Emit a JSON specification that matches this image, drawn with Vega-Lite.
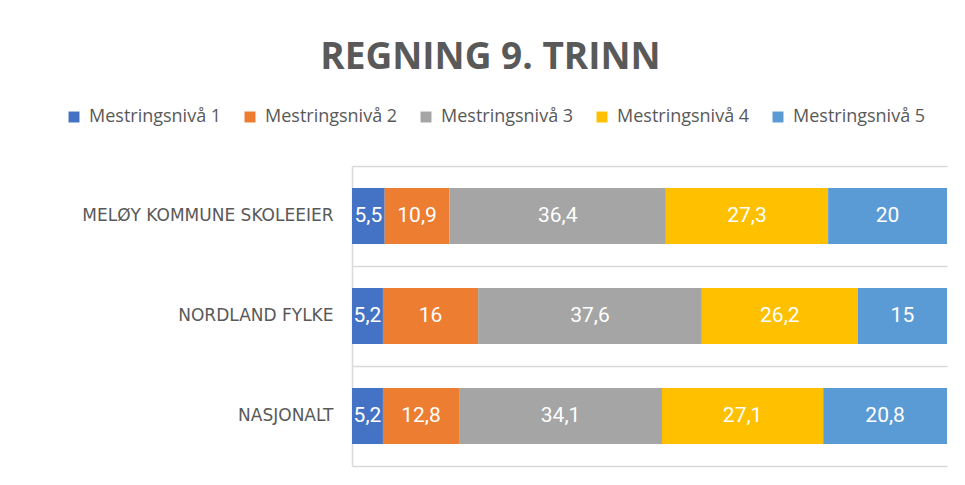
{
  "$schema": "https://vega.github.io/schema/vega-lite/v6.json",
  "autosize": "none",
  "width": 595,
  "height": 300,
  "padding": {"left": 352, "top": 166, "right": 18, "bottom": 19},
  "background": "white",
  "config": {
    "locale": {"number": {"decimal": ",", "thousands": " ", "grouping": [3], "currency": ["", " kr"]}},
    "view": {"stroke": null},
    "font": "Open Sans"
  },
  "title": {
    "text": "REGNING 9. TRINN",
    "font": "Open Sans",
    "fontSize": 37,
    "fontWeight": "bold",
    "color": "#595959",
    "anchor": "middle",
    "frame": "group",
    "dx": -159,
    "offset": 31
  },
  "data": {
    "values": [
      {"omrade": "MELØY KOMMUNE SKOLEEIER", "niva": "Mestringsnivå 1", "verdi": 5.5},
      {"omrade": "MELØY KOMMUNE SKOLEEIER", "niva": "Mestringsnivå 2", "verdi": 10.9},
      {"omrade": "MELØY KOMMUNE SKOLEEIER", "niva": "Mestringsnivå 3", "verdi": 36.4},
      {"omrade": "MELØY KOMMUNE SKOLEEIER", "niva": "Mestringsnivå 4", "verdi": 27.3},
      {"omrade": "MELØY KOMMUNE SKOLEEIER", "niva": "Mestringsnivå 5", "verdi": 20},
      {"omrade": "NORDLAND FYLKE", "niva": "Mestringsnivå 1", "verdi": 5.2},
      {"omrade": "NORDLAND FYLKE", "niva": "Mestringsnivå 2", "verdi": 16},
      {"omrade": "NORDLAND FYLKE", "niva": "Mestringsnivå 3", "verdi": 37.6},
      {"omrade": "NORDLAND FYLKE", "niva": "Mestringsnivå 4", "verdi": 26.2},
      {"omrade": "NORDLAND FYLKE", "niva": "Mestringsnivå 5", "verdi": 15},
      {"omrade": "NASJONALT", "niva": "Mestringsnivå 1", "verdi": 5.2},
      {"omrade": "NASJONALT", "niva": "Mestringsnivå 2", "verdi": 12.8},
      {"omrade": "NASJONALT", "niva": "Mestringsnivå 3", "verdi": 34.1},
      {"omrade": "NASJONALT", "niva": "Mestringsnivå 4", "verdi": 27.1},
      {"omrade": "NASJONALT", "niva": "Mestringsnivå 5", "verdi": 20.8}
    ]
  },
  "transform": [
    {"stack": "verdi", "groupby": ["omrade"], "sort": [{"field": "niva", "order": "ascending"}], "offset": "normalize", "as": ["x0", "x1"]},
    {"calculate": "(datum.x0 + datum.x1) / 2", "as": "xmid"}
  ],
  "encoding": {
    "y": {
      "field": "omrade",
      "type": "nominal",
      "sort": ["MELØY KOMMUNE SKOLEEIER", "NORDLAND FYLKE", "NASJONALT"],
      "scale": {"paddingInner": 0, "paddingOuter": 0},
      "axis": {
        "title": null,
        "domain": true,
        "domainColor": "#d9d9d9",
        "domainWidth": 1.5,
        "ticks": false,
        "grid": true,
        "gridColor": "#d9d9d9",
        "gridWidth": 1.5,
        "bandPosition": 0,
        "labelFont": "DejaVu Sans",
        "labelFontSize": 17,
        "labelColor": "#595959",
        "labelPadding": 19,
        "labelLimit": 400
      }
    }
  },
  "layer": [
    {
      "mark": {"type": "bar", "height": {"band": 0.56}},
      "encoding": {
        "x": {
          "field": "x0",
          "type": "quantitative",
          "scale": {"domain": [0, 1]},
          "axis": {"title": null, "labels": false, "ticks": false, "grid": false, "domain": true, "domainColor": "#d9d9d9", "domainWidth": 1.5}
        },
        "x2": {"field": "x1"},
        "color": {
          "field": "niva",
          "type": "nominal",
          "scale": {
            "domain": ["Mestringsnivå 1", "Mestringsnivå 2", "Mestringsnivå 3", "Mestringsnivå 4", "Mestringsnivå 5"],
            "range": ["#4472C4", "#ED7D31", "#A5A5A5", "#FFC000", "#5B9BD5"]
          },
          "legend": {
            "title": null,
            "orient": "none",
            "direction": "horizontal",
            "legendX": -287,
            "legendY": -58,
            "symbolType": "square",
            "symbolSize": 120,
            "symbolStrokeWidth": 0,
            "symbolOpacity": 1,
            "labelFont": "Open Sans",
            "labelFontSize": 18,
            "labelColor": "#595959",
            "labelOffset": 6,
            "columnPadding": 19
          }
        }
      }
    },
    {
      "mark": {"type": "text", "color": "white", "font": "Roboto", "fontSize": 21, "align": "center", "baseline": "middle"},
      "encoding": {
        "x": {"field": "xmid", "type": "quantitative"},
        "text": {"field": "verdi", "type": "quantitative", "format": ".1~f"}
      }
    }
  ]
}
